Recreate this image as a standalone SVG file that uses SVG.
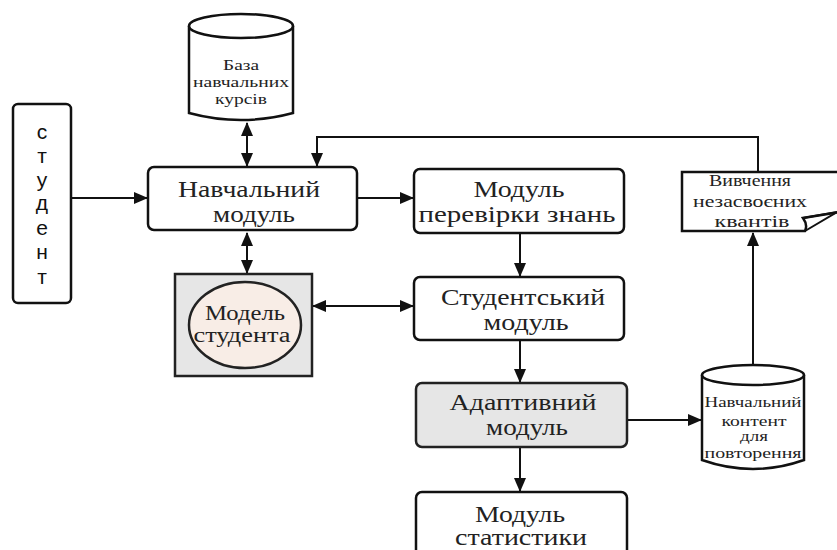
<svg xmlns="http://www.w3.org/2000/svg" width="837" height="550" viewBox="0 0 837 550">
<defs>
<marker id="ah" viewBox="0 0 14 12" refX="13" refY="6" markerWidth="14" markerHeight="12" markerUnits="userSpaceOnUse" orient="auto-start-reverse">
<path d="M0,0 L14,6 L0,12 Z" fill="#111"/>
</marker>
<style>
.box{fill:#fff;stroke:#111;stroke-width:2.5}
.gray{fill:#e6e6e6;stroke:#222;stroke-width:2.5}
.t{font-family:'Liberation Serif','Times New Roman',serif;fill:#222;text-anchor:middle}
.s{font-family:'Liberation Sans',Arial,sans-serif;fill:#111;text-anchor:middle;font-size:21px}
.c{fill:none;stroke:#111;stroke-width:2}
</style>
</defs>
<rect width="837" height="550" fill="#fff"/>
<g id="connectors">
<line class="c" x1="71" y1="198" x2="147" y2="198" marker-end="url(#ah)"/>
<line class="c" x1="247" y1="123" x2="247" y2="166" marker-start="url(#ah)" marker-end="url(#ah)"/>
<line class="c" x1="247" y1="233" x2="247" y2="273" marker-start="url(#ah)" marker-end="url(#ah)"/>
<line class="c" x1="357" y1="198" x2="413" y2="198" marker-end="url(#ah)"/>
<line class="c" x1="313" y1="306" x2="413" y2="306" marker-start="url(#ah)" marker-end="url(#ah)"/>
<line class="c" x1="520" y1="234" x2="520" y2="276" marker-end="url(#ah)"/>
<line class="c" x1="520" y1="341" x2="520" y2="382" marker-end="url(#ah)"/>
<line class="c" x1="520" y1="448" x2="520" y2="491" marker-end="url(#ah)"/>
<line class="c" x1="627" y1="420" x2="701" y2="420" marker-end="url(#ah)"/>
<line class="c" x1="753" y1="365" x2="753" y2="233" marker-end="url(#ah)"/>
<polyline class="c" points="758,172 758,137 317,137 317,166" marker-end="url(#ah)"/>
</g>
<g id="student">
<rect class="box" x="13" y="104" width="58" height="199" rx="5"/>
<text class="s" x="42" y="139">с</text>
<text class="s" x="42" y="163">т</text>
<text class="s" x="42" y="187">у</text>
<text class="s" x="42" y="210">д</text>
<text class="s" x="42" y="235">е</text>
<text class="s" x="42" y="259">н</text>
<text class="s" x="42" y="284">т</text>
</g>
<g id="course-db">
<path class="box" d="M189,26 L189,113 Q241,127 293,113 L293,26"/>
<ellipse class="box" cx="241" cy="26" rx="52" ry="12"/>
<text class="t" font-size="15" x="241" y="70" textLength="36" lengthAdjust="spacingAndGlyphs">База</text>
<text class="t" font-size="15" x="241" y="87" textLength="96" lengthAdjust="spacingAndGlyphs">навчальних</text>
<text class="t" font-size="15" x="241" y="104" textLength="52" lengthAdjust="spacingAndGlyphs">курсів</text>
</g>
<g id="learning-module">
<rect class="box" x="148" y="167" width="209" height="63" rx="6"/>
<text class="t" font-size="23" x="249" y="197" textLength="142" lengthAdjust="spacingAndGlyphs">Навчальний</text>
<text class="t" font-size="23" x="254" y="222" textLength="82" lengthAdjust="spacingAndGlyphs">модуль</text>
</g>
<g id="check-module">
<rect class="box" x="414" y="169" width="210" height="64" rx="6"/>
<text class="t" font-size="23" x="519" y="197" textLength="91" lengthAdjust="spacingAndGlyphs">Модуль</text>
<text class="t" font-size="23" x="517" y="222" textLength="197" lengthAdjust="spacingAndGlyphs">перевірки знань</text>
</g>
<g id="student-model">
<rect class="gray" x="175" y="274" width="137" height="102"/>
<ellipse cx="245" cy="325" rx="56" ry="43" fill="#f8ede6" stroke="#222" stroke-width="2.5"/>
<text class="t" font-size="20" x="245" y="320" textLength="80" lengthAdjust="spacingAndGlyphs">Модель</text>
<text class="t" font-size="20" x="242" y="342" textLength="97" lengthAdjust="spacingAndGlyphs">студента</text>
</g>
<g id="student-module">
<rect class="box" x="414" y="277" width="210" height="63" rx="6"/>
<text class="t" font-size="23" x="523" y="305" textLength="164" lengthAdjust="spacingAndGlyphs">Студентський</text>
<text class="t" font-size="23" x="526" y="330" textLength="85" lengthAdjust="spacingAndGlyphs">модуль</text>
</g>
<g id="adaptive-module">
<rect class="gray" x="416" y="383" width="211" height="64" rx="6"/>
<text class="t" font-size="23" x="523" y="410" textLength="147" lengthAdjust="spacingAndGlyphs">Адаптивний</text>
<text class="t" font-size="23" x="527" y="435" textLength="82" lengthAdjust="spacingAndGlyphs">модуль</text>
</g>
<g id="stats-module">
<rect class="box" x="416" y="492" width="211" height="70" rx="6"/>
<text class="t" font-size="23" x="520" y="522" textLength="90" lengthAdjust="spacingAndGlyphs">Модуль</text>
<text class="t" font-size="23" x="521" y="545" textLength="132" lengthAdjust="spacingAndGlyphs">статистики</text>
</g>
<g id="repeat-content">
<path class="box" d="M702,375 L702,460 Q753,478 804,460 L804,375"/>
<ellipse class="box" cx="753" cy="375" rx="51" ry="10"/>
<text class="t" font-size="14" x="753" y="407" textLength="97" lengthAdjust="spacingAndGlyphs">Навчальний</text>
<text class="t" font-size="14" x="754" y="426" textLength="65" lengthAdjust="spacingAndGlyphs">контент</text>
<text class="t" font-size="14" x="754" y="441" textLength="28" lengthAdjust="spacingAndGlyphs">для</text>
<text class="t" font-size="14" x="753" y="458" textLength="97" lengthAdjust="spacingAndGlyphs">повторення</text>
</g>
<g id="study-quanta">
<path d="M682,172 L840,172 L840,212 L803,218 Q808,225 805,231 L682,231 Z" fill="#fff" stroke="#111" stroke-width="2.5"/>
<path d="M803,218 L837,212 L805,231" fill="none" stroke="#111" stroke-width="2"/>
<text class="t" font-size="17" x="750" y="186" textLength="82" lengthAdjust="spacingAndGlyphs">Вивчення</text>
<text class="t" font-size="17" x="750" y="207" textLength="114" lengthAdjust="spacingAndGlyphs">незасвоєних</text>
<text class="t" font-size="17" x="752" y="227" textLength="75" lengthAdjust="spacingAndGlyphs">квантів</text>
</g>
</svg>
